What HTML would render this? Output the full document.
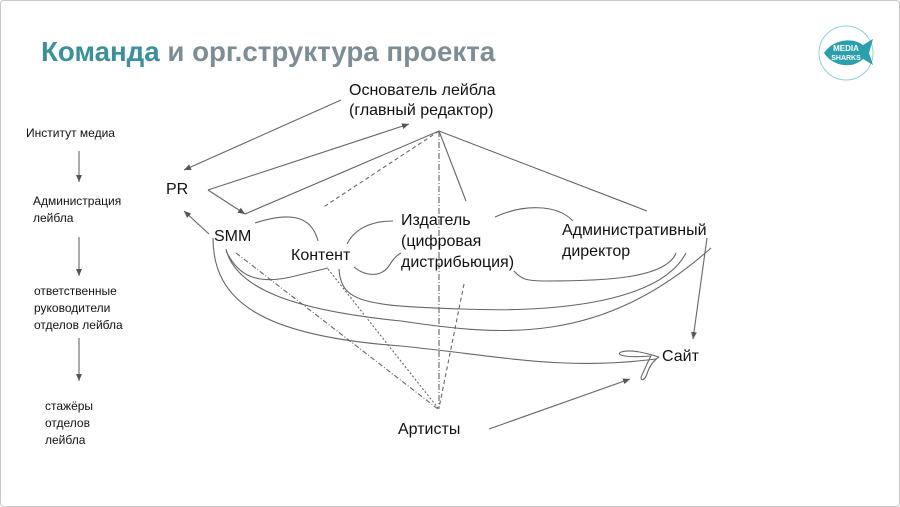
<!DOCTYPE html>
<html><head><meta charset="utf-8"><style>
html,body{margin:0;padding:0;background:#fff}
.s{position:relative;width:898px;height:505px;border:1px solid #c8c8c8;border-radius:4px;overflow:hidden;font-family:"Liberation Sans",sans-serif;}
.t{position:absolute;left:40px;top:35px;font-size:27.7px;font-weight:bold;color:#7d8d96;white-space:nowrap}
.t b{color:#3a919c}
.n{position:absolute;font-size:16px;color:#111;line-height:20px;white-space:nowrap}
.l{position:absolute;font-size:12px;color:#111;line-height:17px;white-space:nowrap}
svg{position:absolute;left:0;top:0}
</style></head><body><div class="s">
<div class="t"><b>Команда</b> и орг.структура проекта</div>
<svg width="900" height="507" viewBox="0 0 900 507">
<defs><marker id="a" markerWidth="8" markerHeight="8" refX="7" refY="4" orient="auto" markerUnits="userSpaceOnUse"><path d="M0,1 L7,4 L0,7 z" fill="#555"/></marker></defs>
<circle cx="845" cy="52" r="27" fill="none" stroke="#8fd0d6" stroke-width="1"/>
<path d="M823 52 C832 38 852 36 862 44 L872 38 L868 52 L872 64 L862 58 C852 68 832 66 823 52z" fill="#2aa0ad"/>
<text x="845" y="50" font-size="8" fill="#fff" text-anchor="middle" font-family="Liberation Sans" font-weight="bold">MEDIA</text>
<text x="845" y="59" font-size="7" fill="#fff" text-anchor="middle" font-family="Liberation Sans" font-weight="bold">SHARKS</text>
<g stroke="#666" stroke-width="1.1" fill="none">
<line x1="78" y1="150" x2="78" y2="181" marker-end="url(#a)"/>
<line x1="78" y1="236" x2="78" y2="275" marker-end="url(#a)"/>
<line x1="78" y1="337" x2="78" y2="380" marker-end="url(#a)"/>
<line x1="340" y1="99" x2="183" y2="169" marker-end="url(#a)"/>
<line x1="207" y1="189" x2="408" y2="123" marker-end="url(#a)"/>
<line x1="207" y1="189" x2="244" y2="213" marker-end="url(#a)"/>
<line x1="244" y1="213" x2="438" y2="130"/>
<line x1="438" y1="130" x2="465" y2="200"/>
<line x1="438" y1="130" x2="646" y2="210"/>
<line x1="208" y1="233" x2="183" y2="210" marker-end="url(#a)"/>
<line x1="706" y1="237" x2="692" y2="338" marker-end="url(#a)"/>
<line x1="488" y1="428" x2="629" y2="378" marker-end="url(#a)"/>
<line x1="438" y1="130" x2="321" y2="207" stroke-dasharray="4,3"/>
<line x1="438" y1="130" x2="438" y2="408" stroke-dasharray="6,2,1,2"/>
<line x1="235" y1="252" x2="437" y2="408" stroke-dasharray="5,2,1,2"/>
<line x1="327" y1="268" x2="437" y2="407" stroke-dasharray="2,2"/>
<line x1="463" y1="283" x2="438" y2="407" stroke-dasharray="4,3"/>
<path d="M254 222 C285 212 310 212 317 240"/>
<path d="M225 250 C235 270 250 285 290 276 L327 267"/>
<path d="M346 243 C355 225 375 220 392 220"/>
<path d="M353 266 C365 276 380 276 388 265 C392 258 396 254 400 252"/>
<path d="M494 216 C520 204 555 202 572 220"/>
<path d="M513 270 C520 278 525 280 545 280 C600 280 665 278 675 252"/>
<path d="M338 268 C340 300 360 305 460 308 C560 312 660 300 685 252"/>
<path d="M225 248 C235 290 300 310 400 320 C500 335 600 345 710 247"/>
<path d="M212 237 C212 300 260 335 400 345 C500 355 560 370 655 358"/>
<path d="M658 356 C645 352 630 348 620 351 C614 354 625 357 650 355 C646 362 644 368 641 374 C638 380 643 381 646 373 C648 366 652 360 658 356"/>
</g>
</svg>
<div class="n" style="left:348px;top:80px">Основатель лейбла</div>
<div class="n" style="left:348px;top:100px">(главный редактор)</div>
<div class="n" style="left:165px;top:179px">PR</div>
<div class="n" style="left:213px;top:226px">SMM</div>
<div class="n" style="left:290px;top:245px">Контент</div>
<div class="n" style="left:400px;top:210px">Издатель</div>
<div class="n" style="left:400px;top:231px">(цифровая</div>
<div class="n" style="left:400px;top:252px">дистрибьюция)</div>
<div class="n" style="left:561px;top:220px">Административный</div>
<div class="n" style="left:561px;top:241px">директор</div>
<div class="n" style="left:661px;top:346px">Сайт</div>
<div class="n" style="left:397px;top:419px">Артисты</div>
<div class="l" style="left:25px;top:124px">Институт медиа</div>
<div class="l" style="left:32px;top:192px">Администрация<br>лейбла</div>
<div class="l" style="left:33px;top:282px">ответственные<br>руководители<br>отделов лейбла</div>
<div class="l" style="left:44px;top:397px">стажёры<br>отделов<br>лейбла</div>
</div></body></html>
